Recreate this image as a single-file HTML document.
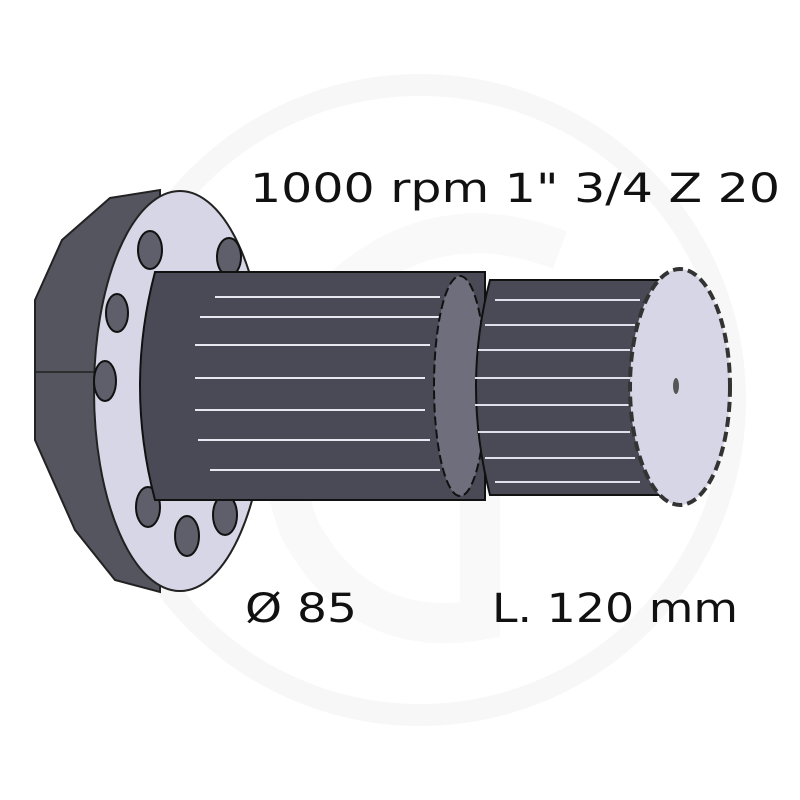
<!DOCTYPE html>
<html><head><style>html,body{margin:0;padding:0;background:#fff}svg{display:block}</style></head>
<body>
<svg width="800" height="800" viewBox="0 0 800 800" xmlns="http://www.w3.org/2000/svg">
<rect width="800" height="800" fill="#fff"/>
<circle cx="420" cy="400" r="315" fill="none" stroke="#f7f7f7" stroke-width="22"/>
<path d="M560 250 Q430 200 330 300 Q250 400 300 530 Q360 640 480 620 L480 470" fill="none" stroke="#f9f9f9" stroke-width="40"/>
<!-- flange body -->
<polygon points="35,300 62,240 110,198 160,190 160,592 115,580 75,530 35,440" fill="#55555f" stroke="#222" stroke-width="2"/>
<line x1="35" y1="372" x2="100" y2="372" stroke="#222" stroke-width="1.5"/>
<ellipse cx="180" cy="391" rx="86" ry="200" fill="#d6d6e6" stroke="#222" stroke-width="2"/>
<g fill="#5f5f6b" stroke="#111" stroke-width="2">
<ellipse cx="150" cy="250" rx="12" ry="19"/>
<ellipse cx="229" cy="257" rx="12" ry="19"/>
<ellipse cx="117" cy="313" rx="11" ry="19"/>
<ellipse cx="105" cy="381" rx="11" ry="20"/>
<ellipse cx="148" cy="507" rx="12" ry="20"/>
<ellipse cx="187" cy="536" rx="12" ry="20"/>
<ellipse cx="225" cy="515" rx="12" ry="20"/>
</g>
<!-- shaft -->
<path d="M155 272 L485 272 L485 500 L155 500 Q125 386 155 272 Z" fill="#4a4a56" stroke="#111" stroke-width="2"/>
<g stroke="#e8e8f0" stroke-width="2">
<line x1="215" y1="297" x2="440" y2="297"/><line x1="200" y1="317" x2="440" y2="317"/>
<line x1="195" y1="345" x2="430" y2="345"/><line x1="195" y1="378" x2="425" y2="378"/>
<line x1="195" y1="410" x2="425" y2="410"/><line x1="198" y1="440" x2="430" y2="440"/>
<line x1="210" y1="470" x2="440" y2="470"/>
</g>
<ellipse cx="460" cy="386" rx="26" ry="110" fill="#6e6e7c" stroke="#111" stroke-width="2" stroke-dasharray="9 4"/>
<path d="M490 280 L680 280 L680 495 L490 495 Q462 386 490 280 Z" fill="#4a4a56" stroke="#111" stroke-width="2"/>
<g stroke="#e0e0ea" stroke-width="2">
<line x1="495" y1="300" x2="640" y2="300"/><line x1="485" y1="325" x2="635" y2="325"/>
<line x1="478" y1="350" x2="630" y2="350"/><line x1="475" y1="378" x2="630" y2="378"/>
<line x1="475" y1="405" x2="630" y2="405"/><line x1="478" y1="432" x2="630" y2="432"/>
<line x1="485" y1="458" x2="635" y2="458"/><line x1="495" y1="482" x2="640" y2="482"/>
</g>
<ellipse cx="680" cy="387" rx="50" ry="118" fill="#d6d6e6" stroke="#333" stroke-width="4" stroke-dasharray="10 5"/>
<ellipse cx="676" cy="386" rx="3" ry="8" fill="#555"/>
<g font-family="DejaVu Sans, Liberation Sans, sans-serif" font-size="40" fill="#111" xml:space="preserve">
<text x="250" y="202" textLength="530" lengthAdjust="spacingAndGlyphs">1000 rpm  1" 3/4  Z 20</text>
<text x="245" y="622" textLength="112" lengthAdjust="spacingAndGlyphs">Ø 85</text>
<text x="492" y="622" textLength="246" lengthAdjust="spacingAndGlyphs">L. 120 mm</text>
</g>
</svg>
</body></html>
